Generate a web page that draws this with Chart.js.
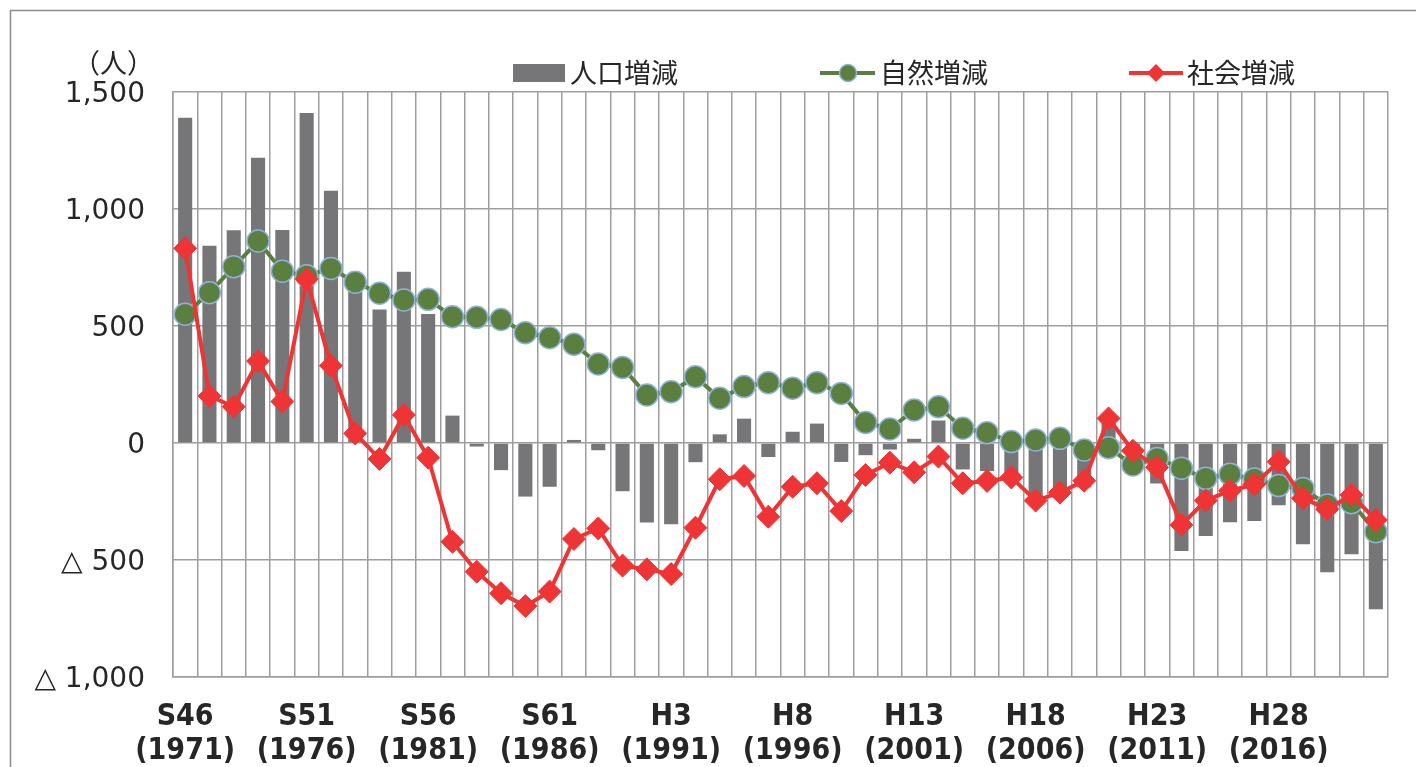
<!DOCTYPE html>
<html>
<head>
<meta charset="utf-8">
<script src="https://cdn.jsdelivr.net/npm/chart.js@4/dist/chart.umd.min.js"></script>
<style>
  html, body { margin: 0; padding: 0; background: #fff; overflow: hidden; }
  canvas { display: block; }
</style>
</head>
<body>
<canvas id="c" width="1416" height="767"></canvas>
<script>
// years S46 (1971) .. R2 (2020)
const years = [1971, 1972, 1973, 1974, 1975, 1976, 1977, 1978, 1979, 1980,
    1981, 1982, 1983, 1984, 1985, 1986, 1987, 1988, 1989, 1990,
    1991, 1992, 1993, 1994, 1995, 1996, 1997, 1998, 1999, 2000,
    2001, 2002, 2003, 2004, 2005, 2006, 2007, 2008, 2009, 2010,
    2011, 2012, 2013, 2014, 2015, 2016, 2017, 2018, 2019, 2020]

// era labels shown every 5 years
const eraTicks = { 1971: 'S46', 1976: 'S51', 1981: 'S56', 1986: 'S61', 1991: 'H3',
    1996: 'H8', 2001: 'H13', 2006: 'H18', 2011: 'H23', 2016: 'H28' }

// 人口増減
const popChange = [1390, 843, 909, 1219, 910, 1410, 1078, 728, 571, 732,
    551, 117, -15, -116, -229, -187, 13, -31, -206, -340,
    -347, -82, 37, 104, -60, 48, 83, -81, -52, -28,
    18, 96, -113, -120, -140, -231, -190, -190, 85, -127,
    -173, -462, -397, -339, -333, -266, -433, -552, -475, -710]

// 自然増減
const natural = [550, 642, 753, 863, 734, 715, 746, 687, 640, 611,
    614, 540, 537, 528, 471, 450, 422, 338, 323, 205,
    219, 283, 191, 241, 258, 234, 258, 212, 88, 60,
    141, 155, 63, 44, 6, 13, 20, -30, -20, -94,
    -66, -108, -151, -134, -154, -182, -194, -265, -255, -379]

// 社会増減
const social = [832, 201, 155, 350, 177, 701, 330, 41, -68, 120,
    -63, -422, -550, -642, -697, -635, -410, -365, -524, -540,
    -560, -362, -155, -141, -315, -187, -172, -291, -137, -84,
    -125, -58, -172, -162, -147, -246, -212, -161, 105, -33,
    -104, -350, -246, -204, -177, -80, -236, -283, -222, -329]

const legendNames = ['人口増減', '自然増減', '社会増減']

const GREY = '#767678', GREEN = '#5b7f3e', RED = '#ee3434', GRID = '#9d9d9d'
const TXT = '#262626'
const CJK = "'Noto Sans CJK JP', 'Noto Sans', sans-serif"

function fmt(v) {
    let s = Math.abs(v).toLocaleString('en-US')
    return v < 0 ? '△ ' + s : s
}

const extras = {
    id: 'extras',
    beforeDraw(chart) {
        let c = chart.ctx
        c.save()
        c.strokeStyle = '#8c8c8c'
        c.lineWidth = 1.5
        c.beginPath()
        c.moveTo(10.5, 767)
        c.lineTo(10.5, 10.5)
        c.lineTo(1416, 10.5)
        c.stroke()
        c.restore()
    },
    afterDraw(chart) {
        let c = chart.ctx
        c.save()
        c.fillStyle = TXT
        c.font = '27px ' + CJK
        c.textBaseline = 'middle'
        c.textAlign = 'right'
        c.fillText('（人）', 154, 63)

        c.textAlign = 'left'
        // bar
        c.fillStyle = GREY
        c.fillRect(513, 64, 52, 18)
        c.fillStyle = TXT
        c.fillText(legendNames[0], 570, 73)
        // green
        c.strokeStyle = GREEN
        c.lineWidth = 4
        c.beginPath(); c.moveTo(820, 73); c.lineTo(875, 73); c.stroke()
        c.fillStyle = GREEN
        c.strokeStyle = '#8db3dd'
        c.lineWidth = 1.5
        c.beginPath(); c.arc(848, 73, 8.5, 0, Math.PI * 2); c.fill(); c.stroke()
        c.fillStyle = TXT
        c.fillText(legendNames[1], 880, 73)
        // red
        c.strokeStyle = RED
        c.lineWidth = 4
        c.beginPath(); c.moveTo(1129, 73); c.lineTo(1183, 73); c.stroke()
        c.fillStyle = RED
        c.beginPath()
        c.moveTo(1156, 64); c.lineTo(1165, 73); c.lineTo(1156, 82); c.lineTo(1147, 73)
        c.closePath(); c.fill()
        c.fillStyle = TXT
        c.fillText(legendNames[2], 1187, 73)
        c.restore()
    }
}

let chart = new Chart(document.getElementById('c'), {
    type: 'bar',
    data: {
        labels: years,
        datasets: [{
            type: 'line',
            label: legendNames[2],
            data: social,
            order: 1,
            borderColor: RED,
            backgroundColor: RED,
            borderWidth: 4,
            pointStyle: 'rectRot',
            pointRadius: 11.5,
            pointBorderWidth: 1,
            pointBorderColor: RED,
            pointBackgroundColor: RED,
            tension: 0
        }, {
            type: 'line',
            label: legendNames[1],
            data: natural,
            order: 2,
            borderColor: GREEN,
            backgroundColor: GREEN,
            borderWidth: 4,
            pointStyle: 'circle',
            pointRadius: 11,
            pointBorderWidth: 1.5,
            pointBorderColor: '#8db3dd',
            pointBackgroundColor: GREEN,
            tension: 0
        }, {
            type: 'bar',
            label: legendNames[0],
            data: popChange,
            order: 3,
            backgroundColor: GREY,
            barPercentage: 0.58,
            categoryPercentage: 1
        }]
    },
    options: {
        responsive: false,
        animation: false,
        devicePixelRatio: 1,
        layout: { padding: { top: 92, right: 28, left: 0, bottom: 0 } },
        plugins: {
            legend: { display: false },
            tooltip: { enabled: false }
        },
        scales: {
            x: {
                offset: true,
                grid: { color: GRID, lineWidth: 1.5, offset: true, drawTicks: false },
                border: { color: GRID, width: 1.5 },
                afterFit: s => { s.height = 90 },
                ticks: {
                    autoSkip: false,
                    maxRotation: 0,
                    padding: 23,
                    color: TXT,
                    font: { family: "'DejaVu Sans Condensed', 'DejaVu Sans', sans-serif", size: 30, weight: 'bold', lineHeight: 1.13 },
                    callback: function (v, i) {
                        let y = years[i]
                        return eraTicks[y] ? [eraTicks[y], '(' + y + ')'] : ''
                    }
                }
            },
            y: {
                min: -1000,
                max: 1500,
                grid: { color: GRID, lineWidth: 1.5, drawTicks: false },
                border: { color: GRID, width: 1.5 },
                afterFit: s => { s.width = 173 },
                ticks: {
                    stepSize: 500,
                    padding: 28,
                    labelOffset: 3,
                    color: TXT,
                    font: { family: "'DejaVu Sans', Verdana, sans-serif", size: 28 },
                    callback: v => fmt(v)
                }
            }
        }
    },
    plugins: [extras]
})
</script>
</body>
</html>
